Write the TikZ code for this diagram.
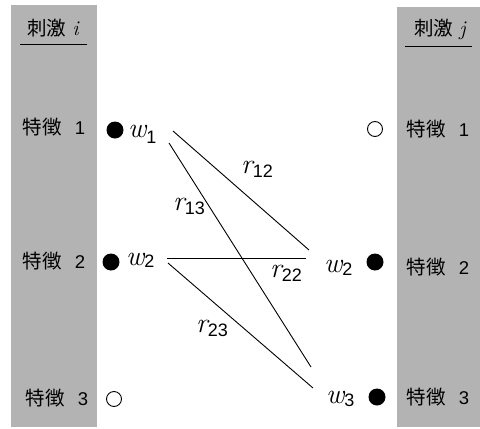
\documentclass[tikz,border=0pt]{standalone}
\usepackage{fontspec}
\setmainfont{Liberation Sans}
\newfontfamily\cjk{Noto Sans CJK JP}
\newfontfamily\lmi{Latin Modern Roman}
\definecolor{panel}{RGB}{179,179,179}
\newcommand\myvar[3]{{\fontsize{28}{28}\selectfont\lmi\itshape #1}\raisebox{#3}{\fontsize{18}{18}\selectfont #2}}
\newcommand\featlab[1]{{\cjk 特徴}\hspace{13pt}{\fontsize{18.5}{18.5}\selectfont #1}}
\newcommand\ttllab[1]{{\cjk 刺激}\hspace{6pt}{\fontsize{21}{21}\selectfont\lmi\itshape #1}}
\begin{document}
\begin{tikzpicture}[x=1pt,y=-1pt,
  feat/.style={font=\fontsize{19.5}{19.5}\selectfont, inner sep=0pt, anchor=center},
  ttl/.style={font=\fontsize{19.5}{19.5}\selectfont, inner sep=0pt},
  fdot/.style={circle, fill=black, minimum size=17pt, inner sep=0pt},
  odot/.style={circle, draw=black, line width=0.9pt, minimum size=15pt, inner sep=0pt},
  var/.style={inner sep=0pt, anchor=base west},
  conn/.style={line width=0.9pt},
  uline/.style={line width=1.4pt}]
\useasboundingbox (0,0) rectangle (480,429);
\fill[panel] (11,5) rectangle (97,427);
\fill[panel] (397,7) rectangle (480,427);
% titles
\node[ttl] (ti) at (53,28) {\ttllab{i}};
\node[ttl] (tj) at (440,29) {\ttllab{j}};
\coordinate (ui1) at (20,44.5); \coordinate (ui2) at (87,44.5);
\coordinate (uj1) at (405,46.5); \coordinate (uj2) at (472,46.5);
\draw[uline] (ui1) -- (ui2);
\draw[uline] (uj1) -- (uj2);
% features left
\node[feat] (l1) at (54,127) {\featlab{1}};
\node[feat] (l2) at (54,261) {\featlab{2}};
\node[feat] (l3) at (57,398) {\featlab{3}};
% features right
\node[feat] (r1) at (438,129) {\featlab{1}};
\node[feat] (r2) at (438,267) {\featlab{2}};
\node[feat] (r3) at (438,397) {\featlab{3}};
% dots
\node[fdot] (a1) at (115,130) {};
\node[fdot] (a2) at (111,262) {};
\node[odot] (a3) at (114,399) {};
\node[odot] (b1) at (375,129) {};
\node[fdot] (b2) at (375,262) {};
\node[fdot] (b3) at (377,397) {};
% weights
\node[var] (w1) at (128,137) {\myvar{w}{1}{-6pt}};
\node[var] (w2l) at (126,265) {\myvar{w}{2}{-2pt}};
\node[var] (w2r) at (324,272) {\myvar{w}{2}{-3pt}};
\node[var] (w3r) at (326,403) {\myvar{w}{3}{-3pt}};
% connector endpoints
\coordinate (s12) at (173,131); \coordinate (e12) at (309,250);
\coordinate (s13) at (169,143); \coordinate (e13) at (311,367);
\coordinate (s22) at (167,258); \coordinate (e22) at (306,258);
\coordinate (s23) at (168,263); \coordinate (e23) at (313,388);
\draw[conn] (s12) -- (e12);
\draw[conn] (s13) -- (e13);
\draw[conn] (s22) -- (e22);
\draw[conn] (s23) -- (e23);
% r labels
\node[var] (r12) at (241,173) {\myvar{r}{12}{-4pt}};
\node[var] (r13) at (173,210) {\myvar{r}{13}{-4pt}};
\node[var] (r22) at (270,277) {\myvar{r}{22}{-4pt}};
\node[var] (r23) at (196,332) {\myvar{r}{23}{-4pt}};
\end{tikzpicture}
\end{document}
